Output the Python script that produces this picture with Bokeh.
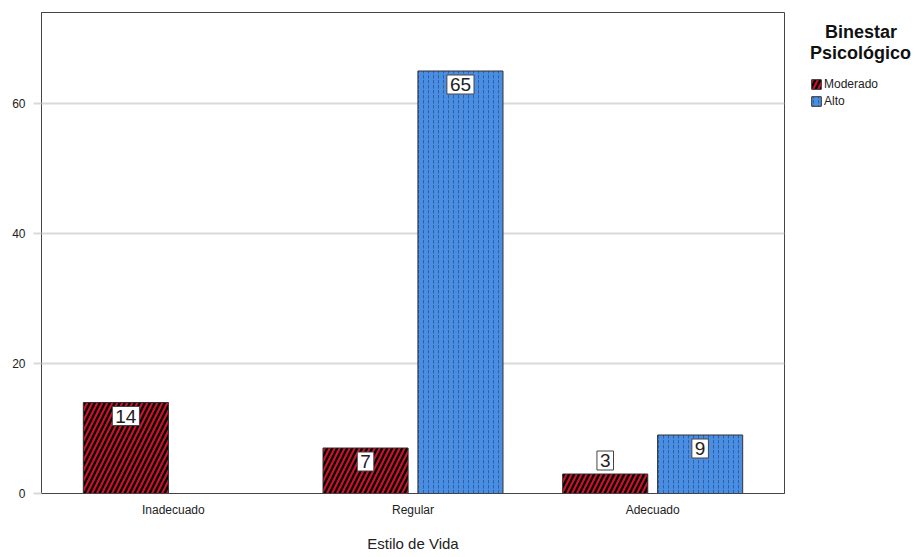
from bokeh.plotting import figure
from bokeh.models import (ColumnDataSource, FixedTicker, Legend, LegendItem, Label, Range1d)
from bokeh.embed import file_html
from bokeh.resources import INLINE

categories = ["Inadecuado", "Regular", "Adecuado"]
series = ["Moderado", "Alto"]
legend_title = ["Binestar", "Psicológico"]
moderado = [14, 7, 3]
alto = [0, 65, 9]
y_ticks = [0, 20, 40, 60]

FONT = "Liberation Sans"

p = figure(frame_width=743, frame_height=481, output_backend="svg", toolbar_location=None,
           x_range=Range1d(0.45, 3.55), y_range=Range1d(0, 74),
           min_border_left=41, min_border_right=131, min_border_top=12, min_border_bottom=64)
p.background_fill_color = "white"
p.border_fill_color = "white"
p.outline_line_color = "#444444"
p.outline_line_width = 1

xc = [i + 1 for i in range(len(categories))]
off = 0.198
w = 0.355
src_m = ColumnDataSource(dict(x=[c - off for c in xc], top=moderado))
src_a = ColumnDataSource(dict(x=[c + off for c in xc], top=alto))

r_m = p.vbar(x="x", top="top", width=w, source=src_m, fill_color="black",
             hatch_pattern="/", hatch_color="#d0102a", hatch_scale=10, hatch_weight=2.2,
             line_color="#333333", line_width=1)
r_a = p.vbar(x="x", top="top", width=w, source=src_a, fill_color="#4a8ee3",
             hatch_pattern=":", hatch_color="#1e3f78", hatch_scale=5, hatch_weight=1,
             hatch_alpha=0.6, line_color="#333333", line_width=1)

# value labels
for s_x, vals in ((src_m.data["x"], moderado), (src_a.data["x"], alto)):
    for x, v in zip(s_x, vals):
        if v <= 0:
            continue
        base = "top" if v >= 5 else "bottom"
        p.add_layout(Label(x=x, y=v, text=str(v), text_align="center",
                           text_baseline=base, y_offset=(-4 if base == "top" else 4),
                           text_font=FONT, text_font_size="19px", text_color="#222222",
                           background_fill_color="white", border_line_color="#444444",
                           border_line_width=1, padding=3))

# axes
p.xgrid.grid_line_color = None
p.ygrid.grid_line_color = "#d9d9d9"
p.ygrid.grid_line_width = 2
p.ygrid.ticker = FixedTicker(ticks=y_ticks)
p.yaxis.ticker = FixedTicker(ticks=y_ticks)
p.yaxis.axis_line_color = "#444444"
p.yaxis.major_tick_line_color = "#d9d9d9"
p.yaxis.major_tick_line_width = 2
p.yaxis.major_tick_out = 8
p.yaxis.major_tick_in = 0
p.yaxis.minor_tick_line_color = None
p.yaxis.major_label_text_font = FONT
p.yaxis.major_label_text_font_size = "12px"
p.yaxis.major_label_text_color = "#222222"
p.yaxis.major_label_standoff = 8

p.xaxis.ticker = FixedTicker(ticks=xc)
p.xaxis.major_label_overrides = {c: n for c, n in zip(xc, categories)}
p.xaxis.major_tick_line_color = None
p.xaxis.minor_tick_line_color = None
p.xaxis.axis_line_color = "#444444"
p.xaxis.major_label_text_font = FONT
p.xaxis.major_label_text_font_size = "12px"
p.xaxis.major_label_text_color = "#222222"
p.xaxis.major_label_standoff = 3
p.xaxis.axis_label = "Estilo de Vida"
p.xaxis.axis_label_text_font = FONT
p.xaxis.axis_label_text_font_size = "15px"
p.xaxis.axis_label_text_font_style = "normal"
p.xaxis.axis_label_text_color = "#222222"
p.xaxis.axis_label_standoff = 15

# legend
title = "\u00a0\u00a0\u00a0" + legend_title[0] + "\n" + legend_title[1]
legend = Legend(items=[LegendItem(label=series[0], renderers=[r_m]),
                       LegendItem(label=series[1], renderers=[r_a])],
                location=(26, 385), glyph_width=12, glyph_height=12,
                title=title, title_text_font=FONT,
                title_text_font_size="18px", title_text_font_style="bold",
                title_text_line_height=1.1,
                title_text_color="#111111", title_standoff=13,
                label_text_font=FONT, label_text_font_size="12px", label_text_color="#222222",
                label_standoff=2, spacing=3, padding=0, margin=0,
                border_line_color=None, background_fill_alpha=0, label_height=12)
p.add_layout(legend, "right")

open("out.html", "w").write(file_html(p, INLINE))
